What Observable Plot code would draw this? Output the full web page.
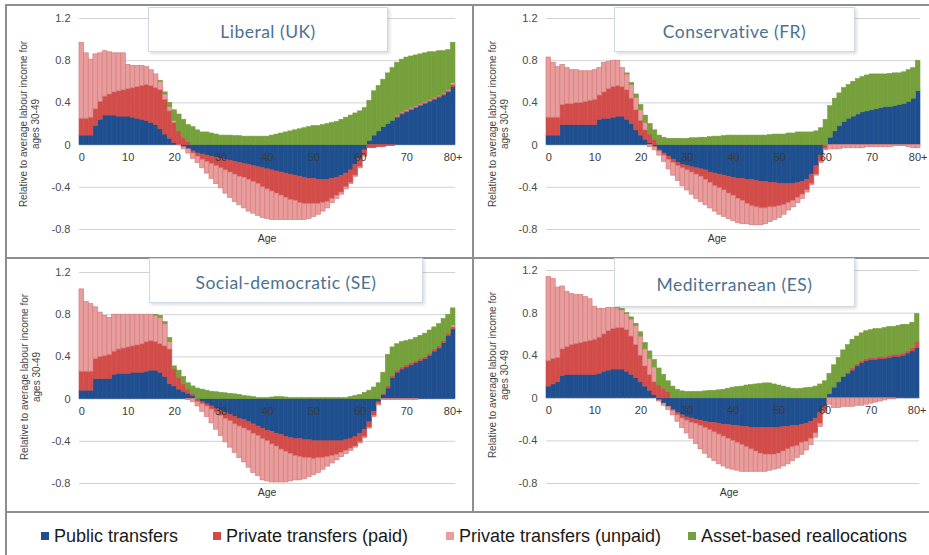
<!DOCTYPE html>
<html><head><meta charset="utf-8">
<script src="https://cdn.jsdelivr.net/npm/d3@7"></script>
<script src="https://cdn.jsdelivr.net/npm/@observablehq/plot@0.6"></script>
<style>
body{margin:0;background:#fff;}
#root{position:relative;width:929px;height:555px;overflow:hidden;font-family:"Liberation Sans",Arial,sans-serif;background:#fff;}
.panel{position:absolute;}
.ln{position:absolute;background:#8e8e8e;}
.titlebox{position:absolute;box-sizing:border-box;background:#fff;border:1.5px solid #d0d9e3;box-shadow:2px 2px 3px rgba(0,0,0,0.13);display:flex;align-items:center;justify-content:center;padding-top:4px;font-family:Lato,"Open Sans",sans-serif;font-size:17.5px;color:#4b7191;letter-spacing:0.5px;white-space:nowrap;}
.ylab{position:absolute;transform:translate(-50%,-50%) rotate(-90deg);font-size:10px;line-height:12px;color:#444;text-align:center;white-space:nowrap;}
.xlab{position:absolute;transform:translate(-50%,-50%);font-size:10.5px;color:#333;}
.leg{position:absolute;font-size:18px;color:#1a1a1a;white-space:nowrap;line-height:18px;}
.sw{position:absolute;width:8px;height:8px;}
</style></head>
<body><div id="root"></div>
<script>
// ---- categories / labels ----
const ages = d3.range(0, 81);
const xTickAges = [0, 10, 20, 30, 40, 50, 60, 70, 80];
const xTickLabels = ["0", "10", "20", "30", "40", "50", "60", "70", "80+"];
const yTicks = [-0.8, -0.4, 0, 0.4, 0.8, 1.2];
const seriesNames = ["Public transfers", "Private transfers (paid)", "Private transfers (unpaid)", "Asset-based reallocations"];
const seriesColors = ["#1f4f8f", "#d24d4a", "#e89c9c", "#75a03b"];
const panelTitles = ["Liberal (UK)", "Conservative (FR)", "Social-democratic (SE)", "Mediterranean (ES)"];
const yTitleLines = ["Relative to average labour income for", "ages 30-49"];
const xTitle = "Age";

// ---- Liberal (UK) ----
const ukPublic = [0.09,0.09,0.09,0.18,0.24,0.28,0.28,0.28,0.27,0.27, 0.27,0.26,0.25,0.24,0.23,0.21,0.19,0.15,0.10,0.06,
 0.02,0,-0.02,-0.04,-0.06,-0.08,-0.09,-0.10,-0.11,-0.12, -0.13,-0.14,-0.15,-0.16,-0.17,-0.18,-0.19,-0.20,-0.21,-0.22,
 -0.23,-0.24,-0.25,-0.26,-0.27,-0.28,-0.29,-0.30,-0.31,-0.32, -0.32,-0.33,-0.33,-0.33,-0.32,-0.31,-0.29,-0.27,-0.24,-0.19,
 -0.13,-0.05,0.04,0.09,0.13,0.17,0.20,0.23,0.26,0.29, 0.31,0.33,0.35,0.37,0.39,0.41,0.43,0.45,0.47,0.50, 0.55];
const ukPaid = [0.16,0.16,0.17,0.16,0.17,0.18,0.20,0.22,0.24,0.25, 0.26,0.28,0.30,0.32,0.34,0.35,0.35,0.37,0.33,0.26,
 0.19,0.13,0.07,0.03,-0.02,-0.03,-0.05,-0.06,-0.07,-0.08, -0.09,-0.10,-0.11,-0.12,-0.13,-0.13,-0.14,-0.15,-0.16,-0.18,
 -0.19,-0.20,-0.21,-0.22,-0.23,-0.24,-0.24,-0.25,-0.25,-0.24, -0.24,-0.23,-0.22,-0.21,-0.19,-0.17,-0.16,-0.13,-0.12,-0.10,
 -0.08,-0.05,-0.03,-0.03,-0.02,-0.02,-0.01,-0.01,0.01,0.01, 0.01,0.01,0.01,0.01,0.01,0.01,0.01,0.01,0.01,0.01, 0.02];
const ukUnpaid = [0.72,0.62,0.55,0.52,0.46,0.43,0.40,0.37,0.36,0.35, 0.23,0.21,0.20,0.19,0.17,0.15,0.13,0.08,0.05,0.04,
 0.02,0,-0.02,-0.04,-0.05,-0.06,-0.08,-0.11,-0.14,-0.17, -0.19,-0.22,-0.24,-0.26,-0.27,-0.29,-0.30,-0.30,-0.30,-0.29,
 -0.28,-0.27,-0.25,-0.23,-0.21,-0.19,-0.18,-0.16,-0.15,-0.14, -0.12,-0.10,-0.08,-0.06,-0.04,-0.03,-0.02,-0.02,-0.01,-0.01,
 -0.01,-0.01,0,0,0,0,0,0,0.01,0.01, 0.01,0.01,0.01,0.01,0.01,0.01,0.01,0.01,0.01,0.01, 0.02];
const ukAsset = [0,0,0,0,0,0,0,0,0,0, 0,0,0,0,0,0,0,0.01,0.02,0.04,
 0.10,0.16,0.17,0.16,0.17,0.14,0.12,0.12,0.11,0.10, 0.09,0.09,0.09,0.085,0.085,0.08,0.08,0.08,0.08,0.08,
 0.08,0.09,0.10,0.11,0.12,0.13,0.14,0.15,0.16,0.17, 0.18,0.18,0.19,0.20,0.21,0.22,0.24,0.26,0.28,0.30,
 0.32,0.35,0.38,0.42,0.43,0.45,0.48,0.50,0.50,0.50, 0.50,0.49,0.48,0.47,0.46,0.45,0.43,0.42,0.40,0.38, 0.38];

// ---- Conservative (FR) ----
const frPublic = [0.09,0.09,0.09,0.19,0.19,0.19,0.19,0.19,0.19,0.19, 0.19,0.24,0.25,0.25,0.26,0.27,0.27,0.24,0.20,0.14,
 0.09,0.05,0.02,-0.02,-0.05,-0.08,-0.11,-0.14,-0.17,-0.19, -0.20,-0.21,-0.22,-0.23,-0.24,-0.26,-0.27,-0.28,-0.29,-0.30,
 -0.31,-0.32,-0.32,-0.33,-0.33,-0.34,-0.35,-0.35,-0.36,-0.36, -0.37,-0.37,-0.37,-0.37,-0.36,-0.35,-0.33,-0.28,-0.20,-0.10,
 0,0.07,0.13,0.18,0.22,0.25,0.27,0.29,0.31,0.32, 0.33,0.34,0.35,0.36,0.36,0.37,0.38,0.39,0.41,0.44, 0.51];
const frPaid = [0.17,0.17,0.17,0.19,0.20,0.20,0.21,0.21,0.22,0.23, 0.24,0.23,0.25,0.28,0.29,0.29,0.28,0.28,0.24,0.19,
 0.14,0.09,0.08,0.05,-0.01,-0.02,-0.03,-0.03,-0.03,-0.03, -0.04,-0.05,-0.06,-0.07,-0.09,-0.10,-0.12,-0.13,-0.14,-0.16,
 -0.17,-0.19,-0.21,-0.23,-0.25,-0.25,-0.25,-0.25,-0.23,-0.23, -0.21,-0.20,-0.18,-0.16,-0.14,-0.12,-0.10,-0.09,-0.08,-0.06,
 -0.04,0,0,0,0,0,0,0,0,0, 0,0,0,0,0,0,0,0,0,0, 0];
const frUnpaid = [0.57,0.52,0.48,0.38,0.34,0.32,0.31,0.30,0.29,0.28, 0.28,0.26,0.28,0.26,0.25,0.24,0.18,0.15,0.13,0.12,
 0.10,0.07,-0.02,-0.03,-0.04,-0.06,-0.09,-0.12,-0.14,-0.17, -0.19,-0.21,-0.23,-0.24,-0.24,-0.24,-0.24,-0.25,-0.25,-0.24,
 -0.24,-0.23,-0.22,-0.19,-0.18,-0.17,-0.16,-0.15,-0.14,-0.12, -0.11,-0.09,-0.07,-0.06,-0.05,-0.04,-0.02,-0.01,-0.01,-0.01,
 -0.01,-0.04,-0.04,-0.04,-0.03,-0.03,-0.03,-0.03,-0.03,-0.02, -0.02,-0.02,-0.02,-0.02,-0.02,-0.01,-0.01,-0.01,-0.02,-0.03, -0.03];
const frAsset = [0,0,0,0,0,0,0,0,0,0, 0,0,0,0,0,0,0,0.01,0.02,0.03,
 0.05,0.07,0.10,0.09,0.09,0.07,0.06,0.06,0.06,0.06, 0.06,0.065,0.065,0.07,0.07,0.075,0.08,0.08,0.085,0.09,
 0.09,0.09,0.09,0.09,0.09,0.09,0.09,0.09,0.095,0.10, 0.10,0.10,0.11,0.11,0.12,0.12,0.12,0.12,0.13,0.16,
 0.24,0.30,0.31,0.31,0.32,0.32,0.33,0.335,0.335,0.34, 0.34,0.33,0.32,0.31,0.315,0.31,0.30,0.30,0.30,0.29, 0.29];

// ---- Social-democratic (SE) ----
const sePublic = [0.08,0.08,0.08,0.19,0.19,0.19,0.19,0.23,0.24,0.24, 0.24,0.25,0.25,0.25,0.26,0.27,0.27,0.25,0.21,0.14,
 0.12,0.09,0.07,0.05,0.03,-0.01,-0.03,-0.05,-0.07,-0.09, -0.11,-0.13,-0.15,-0.17,-0.19,-0.20,-0.22,-0.24,-0.26,-0.28,
 -0.30,-0.31,-0.33,-0.34,-0.36,-0.37,-0.38,-0.38,-0.39,-0.39, -0.40,-0.40,-0.40,-0.40,-0.40,-0.40,-0.40,-0.39,-0.38,-0.36,
 -0.33,-0.29,-0.22,-0.12,-0.03,0.04,0.10,0.20,0.25,0.28, 0.30,0.32,0.34,0.36,0.38,0.41,0.45,0.48,0.53,0.60, 0.66];
const sePaid = [0.18,0.18,0.18,0.19,0.21,0.22,0.23,0.22,0.23,0.24, 0.25,0.25,0.26,0.27,0.28,0.28,0.27,0.27,0.29,0.33,
 0.16,0.11,0.07,0.04,0.02,-0.02,-0.02,-0.02,-0.03,-0.04, -0.05,-0.06,-0.06,-0.07,-0.07,-0.08,-0.08,-0.09,-0.09,-0.10,
 -0.10,-0.12,-0.12,-0.14,-0.14,-0.15,-0.16,-0.17,-0.17,-0.17, -0.17,-0.16,-0.16,-0.15,-0.14,-0.13,-0.11,-0.10,-0.09,-0.09,
 -0.08,-0.07,-0.05,-0.04,-0.02,0.01,0.02,0.02,0.02,0.02, 0.02,0.02,0.02,0.02,0.02,0.02,0.02,0.02,0.02,0.02, 0.02];
const seUnpaid = [0.78,0.66,0.64,0.49,0.42,0.38,0.35,0.35,0.33,0.32, 0.31,0.30,0.29,0.28,0.26,0.25,0.25,0.25,0.21,0.07,
 0,0,0,-0.01,-0.03,-0.04,-0.07,-0.10,-0.13,-0.16, -0.19,-0.22,-0.25,-0.27,-0.30,-0.32,-0.35,-0.37,-0.38,-0.39,
 -0.38,-0.36,-0.34,-0.31,-0.29,-0.26,-0.23,-0.22,-0.20,-0.18, -0.15,-0.14,-0.11,-0.09,-0.07,-0.05,-0.04,-0.03,-0.02,-0.01,
 -0.01,-0.01,-0.01,-0.01,-0.01,-0.01,-0.01,-0.01,-0.01,-0.01, -0.01,-0.01,-0.01,0,0,0,0,0,0,0, 0.02];
const seAsset = [0,0,0,0,0,0,0,0,0,0, 0,0,0,0,0,0,0.01,0.02,0.02,0.04,
 0.03,0.07,0.07,0.06,0.07,0.10,0.09,0.08,0.07,0.065, 0.06,0.055,0.05,0.045,0.04,0.03,0.025,0.02,0.01,0.01,
 0.01,0.015,0.02,0.02,0.015,0.01,0.01,0.01,0.01,0.01, 0.01,0.01,0.01,0.01,0.01,0.01,0.01,0.01,0.02,0.03,
 0.04,0.06,0.08,0.11,0.15,0.20,0.30,0.27,0.25,0.24, 0.23,0.22,0.22,0.22,0.22,0.22,0.21,0.21,0.21,0.18, 0.16];

// ---- Mediterranean (ES) ----
const esPublic = [0.11,0.13,0.15,0.21,0.22,0.22,0.22,0.22,0.22,0.22, 0.22,0.23,0.25,0.26,0.27,0.27,0.27,0.25,0.22,0.19,
 0.15,0.11,0.07,0.03,-0.02,-0.05,-0.08,-0.11,-0.14,-0.16, -0.18,-0.19,-0.20,-0.21,-0.22,-0.23,-0.23,-0.24,-0.25,-0.25,
 -0.26,-0.26,-0.27,-0.27,-0.28,-0.28,-0.28,-0.28,-0.28,-0.28, -0.28,-0.27,-0.27,-0.26,-0.26,-0.25,-0.24,-0.22,-0.19,-0.14,
 -0.08,0.04,0.10,0.15,0.20,0.23,0.26,0.30,0.33,0.35, 0.36,0.36,0.37,0.37,0.38,0.39,0.39,0.40,0.42,0.44, 0.47];
const esPaid = [0.24,0.24,0.23,0.25,0.26,0.28,0.29,0.30,0.31,0.32, 0.33,0.34,0.35,0.37,0.38,0.39,0.39,0.39,0.36,0.31,
 0.25,0.19,0.15,0.12,0.12,0.09,0.06,-0.01,-0.02,-0.03, -0.03,-0.04,-0.04,-0.05,-0.06,-0.07,-0.09,-0.10,-0.11,-0.13,
 -0.14,-0.16,-0.17,-0.19,-0.20,-0.22,-0.24,-0.25,-0.25,-0.25, -0.24,-0.23,-0.21,-0.20,-0.19,-0.17,-0.17,-0.16,-0.14,-0.10,
 -0.04,0,0,0,0,0.01,0.02,0.02,0.02,0.02, 0.02,0.02,0.02,0.02,0.02,0.02,0.02,0.02,0.02,0.03, 0.06];
const esUnpaid = [0.79,0.75,0.66,0.59,0.52,0.48,0.46,0.45,0.42,0.39, 0.31,0.27,0.24,0.22,0.20,0.19,0.17,0.15,0.16,0.18,
 0.18,0.16,0.15,0.14,-0.01,-0.02,-0.03,-0.04,-0.06,-0.09, -0.12,-0.15,-0.19,-0.22,-0.24,-0.26,-0.27,-0.28,-0.28,-0.28,
 -0.27,-0.26,-0.25,-0.23,-0.21,-0.19,-0.17,-0.16,-0.15,-0.14, -0.14,-0.14,-0.14,-0.13,-0.11,-0.11,-0.08,-0.06,-0.04,-0.03,
 -0.02,-0.06,-0.09,-0.09,-0.08,-0.08,-0.08,-0.07,-0.07,-0.06, -0.05,-0.04,-0.03,-0.02,-0.01,-0.01,0,0,0,0, 0];
const esAsset = [0,0,0,0,0,0,0,0,0,0, 0,0,0,0,0,0,0.01,0.01,0.02,0.02,
 0.04,0.06,0.07,0.07,0.16,0.13,0.10,0.11,0.08,0.065, 0.06,0.06,0.06,0.06,0.065,0.07,0.07,0.075,0.08,0.09,
 0.10,0.105,0.11,0.12,0.125,0.13,0.135,0.14,0.14,0.13, 0.12,0.11,0.10,0.09,0.085,0.09,0.095,0.10,0.11,0.13,
 0.16,0.19,0.21,0.23,0.25,0.26,0.27,0.26,0.26,0.26, 0.26,0.27,0.26,0.27,0.27,0.26,0.27,0.27,0.25,0.24, 0.26];

// ---- layout of the four panels ----
const panels = [
  {title: panelTitles[0], series: [ukPublic, ukPaid, ukUnpaid, ukAsset],
   left: 0, top: 5, w: 465, h: 250, ml: 79, mr: 10, mt: 13, mb: 26,
   box: [148, 7, 240, 45], ylab: [30, 124], age: [267, 238]},
  {title: panelTitles[1], series: [frPublic, frPaid, frUnpaid, frAsset],
   left: 470, top: 5, w: 459, h: 250, ml: 76, mr: 9, mt: 13, mb: 26,
   box: [614, 7, 241, 45], ylab: [499, 124], age: [717, 238]},
  {title: panelTitles[2], series: [sePublic, sePaid, seUnpaid, seAsset],
   left: 0, top: 258, w: 465, h: 250, ml: 79, mr: 10, mt: 14, mb: 25,
   box: [149, 258, 274, 45], ylab: [31, 377], age: [267, 492]},
  {title: panelTitles[3], series: [esPublic, esPaid, esUnpaid, esAsset],
   left: 470, top: 258, w: 459, h: 250, ml: 76, mr: 10, mt: 12, mb: 25,
   box: [614, 258, 241, 49], ylab: [499, 375], age: [729, 492]}
];

const root = document.getElementById("root");
const fmt = d => d === 0 ? "0" : d.toFixed(1);

function el(cls, css, text) {
  const e = document.createElement("div");
  e.className = cls;
  Object.assign(e.style, css);
  if (text != null) e.textContent = text;
  root.appendChild(e);
  return e;
}

for (const p of panels) {
  const rows = [];
  p.series.forEach((arr, k) => arr.forEach((v, i) => rows.push({age: ages[i], series: seriesNames[k], value: v})));
  const chart = Plot.plot({
    width: p.w, height: p.h,
    marginLeft: p.ml, marginRight: p.mr, marginTop: p.mt, marginBottom: p.mb,
    style: {fontFamily: "'Liberation Sans', Arial, sans-serif", background: "transparent", overflow: "visible"},
    x: {type: "band", domain: ages, paddingInner: 0, paddingOuter: 0, axis: null},
    y: {domain: [-0.8, 1.2], axis: null},
    color: {domain: seriesNames, range: seriesColors},
    marks: [
      Plot.gridY(yTicks, {stroke: "#d2d2d2", strokeOpacity: 1, strokeWidth: 1}),
      Plot.barY(rows, {x: "age", y: "value", fill: "series"}),
      Plot.axisY(yTicks, {tickSize: 0, tickPadding: 9, tickFormat: fmt, fontSize: 11, fill: "#4a4a4a", line: true, stroke: "#c9c9c9", label: null}),
      Plot.text(xTickAges, {x: d => d, y: 0, text: (d, i) => xTickLabels[i], dy: 12, fontSize: 11, fill: "#3a3a3a"})
    ]
  });
  // bar outlines: same colour as the fill (no seams), darker hairlines on the unpaid series
  chart.querySelectorAll("rect").forEach(r => {
    const f = r.getAttribute("fill");
    if (!f || !seriesColors.includes(f)) return;
    if (f === seriesColors[2]) { r.setAttribute("stroke", "#d47e7e"); r.setAttribute("stroke-width", "0.7"); }
    else { r.setAttribute("stroke", f); r.setAttribute("stroke-width", "0.6"); }
  });
  const holder = el("panel", {left: p.left + "px", top: p.top + "px"});
  holder.appendChild(chart);
  const yl = el("ylab", {left: p.ylab[0] + "px", top: p.ylab[1] + "px"});
  yl.innerHTML = yTitleLines.join("<br>");
  el("xlab", {left: p.age[0] + "px", top: p.age[1] + "px"}, xTitle);
}

// frame lines
el("ln", {left: "5px", top: "4px", width: "924px", height: "1.5px"});
el("ln", {left: "5px", top: "4px", width: "1.5px", height: "551px"});
el("ln", {left: "472px", top: "4px", width: "1.5px", height: "508px"});
el("ln", {left: "5px", top: "257px", width: "924px", height: "1.5px"});
el("ln", {left: "5px", top: "511px", width: "924px", height: "1.5px"});

// title boxes
for (const p of panels) {
  el("titlebox", {left: p.box[0] + "px", top: p.box[1] + "px", width: p.box[2] + "px", height: p.box[3] + "px"}, p.title);
}

// legend
const legendX = [[41, 54], [213, 226], [446, 459], [688, 701]];
seriesNames.forEach((name, k) => {
  el("sw", {left: legendX[k][0] + "px", top: "532px", background: seriesColors[k]});
  el("leg", {left: legendX[k][1] + "px", top: "527px"}, name);
});
</script>
</body></html>
